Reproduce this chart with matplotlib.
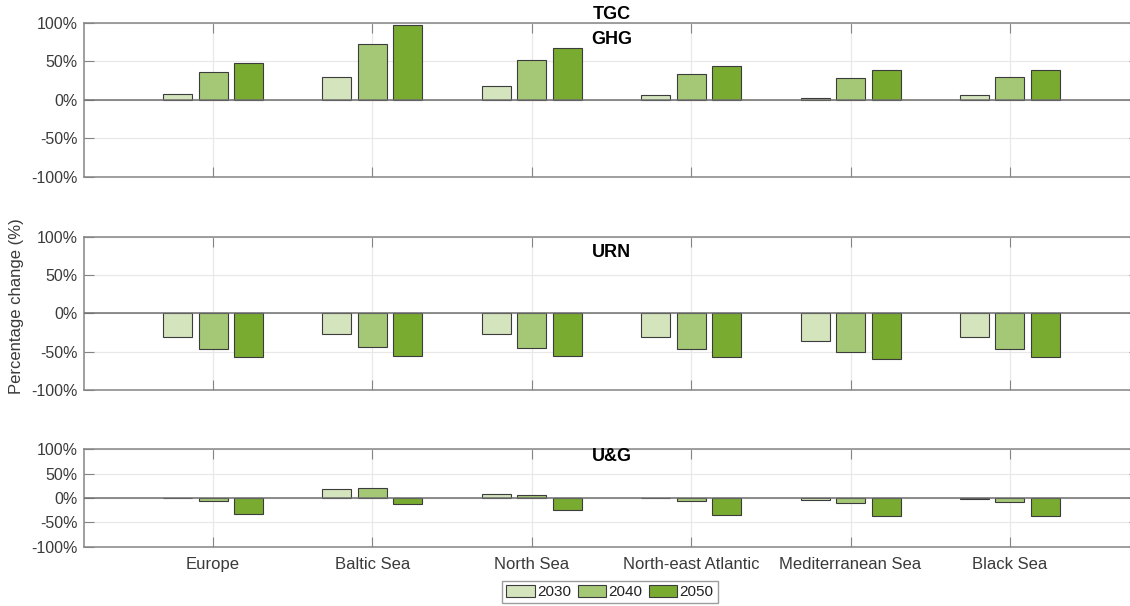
import numpy as np
import matplotlib
matplotlib.use("Agg")
import matplotlib.pyplot as plt
from matplotlib.patches import Patch
from matplotlib.ticker import FuncFormatter

plt.rcParams['font.family'] = ['Liberation Sans', 'DejaVu Sans']

# regions (x axis) and scenario years
regions = ["Europe", "Baltic Sea", "North Sea", "North-east Atlantic", "Mediterranean Sea", "Black Sea"]
years = ["2030", "2040", "2050"]
year_colors = ["#d4e4bc", "#a5c877", "#7aab31"]

# percentage change per indicator, one list per year
ghg_2030 = [8, 29, 18, 6.5, 2.6, 6.5]
ghg_2040 = [35.5, 72.7, 51, 33, 28.5, 30]
ghg_2050 = [47.5, 97.4, 67.5, 44, 39, 39]

urn_2030 = [-31, -26.5, -27, -30.4, -35.6, -30.4]
urn_2040 = [-47, -44, -45.6, -46, -50, -46.5]
urn_2050 = [-57, -55, -55.6, -56.5, -59, -56.5]

ug_2030 = [-1, 18, 7.5, -1, -5, -3]
ug_2040 = [-5.5, 20, 6, -7, -9.6, -9]
ug_2050 = [-33.5, -13, -24.6, -35, -37.6, -37.6]

panels = [("GHG", [ghg_2030, ghg_2040, ghg_2050]),
          ("URN", [urn_2030, urn_2040, urn_2050]),
          ("U&G", [ug_2030, ug_2040, ug_2050])]

W, H = 1130, 606
fig = plt.figure(figsize=(W / 100, H / 100), dpi=100)

# axes boxes in pixels: (top, bottom)
boxes = [(22.7, 176.7), (236.7, 390.0), (449.3, 546.7)]
# title centre offset below axes top, in pixels
title_off = [16.5, 15.8, 7.4]
x_left, x_right = 84, 1139

x = np.arange(1, len(regions) + 1)
bw = 0.182
step = 0.2226
grey = "#858585"
txt = "#3a3a3a"

axes = []
for i, ((name, series), (top, bot)) in enumerate(zip(panels, boxes)):
    ax = fig.add_axes([x_left / W, 1 - bot / H, (x_right - x_left) / W, (bot - top) / H])
    axes.append(ax)
    for k, vals in enumerate(series):
        ax.bar(x + (k - 1) * step, vals, width=bw, color=year_colors[k],
               edgecolor="#3c3c3c", linewidth=0.8, zorder=3)
    ax.axhline(0, color="#6e6e6e", lw=1.1, zorder=4)
    ax.set_xlim(0.19, 6.81)
    ax.set_ylim(-100, 100)
    ax.set_yticks([-100, -50, 0, 50, 100])
    ax.yaxis.set_major_formatter(FuncFormatter(lambda v, p: f"{int(v)}%"))
    ax.set_xticks(x)
    if i == 2:
        ax.set_xticklabels(regions)
    else:
        ax.set_xticklabels([])
    ax.grid(True, color="#e8e8e8", lw=0.9, zorder=0)
    ax.set_axisbelow(True)
    for s in ax.spines.values():
        s.set_color(grey)
        s.set_linewidth(1.1)
    ax.tick_params(axis="both", direction="in", color=grey, labelcolor=txt,
                   top=True, right=True)
    ax.tick_params(axis="x", length=7, pad=7.5, labelsize=12)
    ax.tick_params(axis="y", length=7, pad=4.5, labelsize=11.5)
    h = bot - top
    ax.text(0.5, 1 - title_off[i] / h, name, transform=ax.transAxes,
            ha="center", va="center", fontsize=13, fontweight="bold", color="black")

# overall title above top panel
fig.text((x_left + x_right) / 2 / W, 1 - 14.5 / H, "TGC", ha="center", va="center",
         fontsize=13, fontweight="bold", color="black")

fig.text(17 / W, 1 - 306 / H, "Percentage change (%)", rotation=90, ha="center",
         va="center", fontsize=12, color=txt)

handles = [Patch(facecolor=c, edgecolor="#3c3c3c", linewidth=0.8, label=y)
           for y, c in zip(years, year_colors)]
leg = fig.legend(handles=handles, loc="center", bbox_to_anchor=(610 / W, 1 - 592 / H),
                 ncol=3, fontsize=11, frameon=True, fancybox=False,
                 handlelength=1.85, handleheight=0.9, handletextpad=0.15,
                 columnspacing=0.45, borderpad=0.25, borderaxespad=0)
leg.get_frame().set_edgecolor(grey)
leg.get_frame().set_linewidth(1.0)
for t in leg.get_texts():
    t.set_color("#222222")

fig.savefig("out.png", dpi=100)
